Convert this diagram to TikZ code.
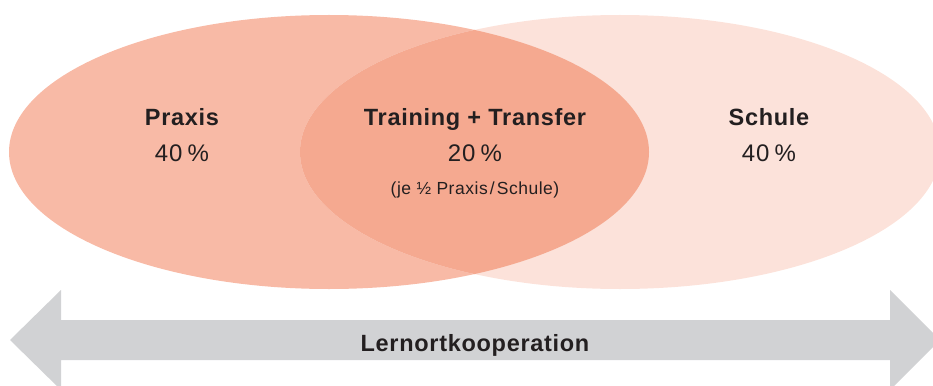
\documentclass[tikz,border=0pt]{standalone}
\usepackage{fontspec}
\setmainfont{Liberation Sans}
\newfontfamily\trackfont[LetterSpace=3]{Liberation Sans}
\definecolor{praxis}{RGB}{248,186,166}
\definecolor{schule}{RGB}{252,226,218}
\definecolor{overlap}{RGB}{245,169,144}
\definecolor{arrowgray}{RGB}{209,210,212}
\definecolor{txt}{RGB}{35,31,32}
\begin{document}
\begin{tikzpicture}[x=1pt,y=-1pt,
  title/.style={anchor=base,text=txt,font=\trackfont\fontsize{23.5}{26}\selectfont\bfseries},
  pct/.style={anchor=base,text=txt,font=\trackfont\fontsize{24}{26}\selectfont},
  note/.style={anchor=base,text=txt,font=\trackfont\fontsize{17.5}{20}\selectfont}]
\useasboundingbox (0,0) rectangle (933,385);
\begin{scope}
\clip (0,0) rectangle (933,385);
% ellipses
\fill[praxis] (329,152) ellipse [x radius=320, y radius=137];
\fill[schule] (620,152) ellipse [x radius=320, y radius=137];
\begin{scope}
\clip (329,152) ellipse [x radius=320, y radius=137];
\fill[overlap] (620,152) ellipse [x radius=320, y radius=137];
\end{scope}
% double arrow
\fill[arrowgray] (10,340) -- (61,290) -- (61,320) -- (890,320) -- (890,290)
  -- (940,340) -- (890,390) -- (890,360) -- (61,360) -- (61,390) -- cycle;
\end{scope}
\node[title] (praxis) at (182,125) {Praxis};
\node[pct] (praxisp) at (182,161) {40\hspace{0.22em}\%};
\node[title] (train) at (475,125) {Training + Transfer};
\node[pct] (trainp) at (475,161) {20\hspace{0.22em}\%};
\node[note] (trainn) at (475,194) {(je ½ Praxis\hspace{0.12em}/\hspace{0.12em}Schule)};
\node[title] (schule) at (769,125) {Schule};
\node[pct] (schulep) at (769,161) {40\hspace{0.22em}\%};
\node[title] (lok) at (475,351) {Lernortkooperation};
\end{tikzpicture}
\end{document}
